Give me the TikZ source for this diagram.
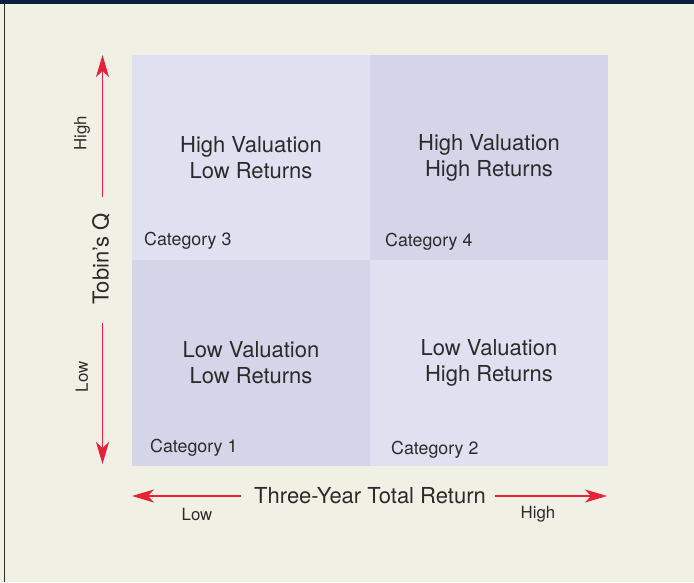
\documentclass[tikz,border=0pt]{standalone}
\usepackage{fontspec}
\setmainfont{TeX Gyre Heros}
\usetikzlibrary{arrows.meta}
\definecolor{paper}{HTML}{F1F0E5}
\definecolor{navy}{HTML}{0B1F3F}
\definecolor{lightq}{HTML}{E0E1F0}
\definecolor{darkq}{HTML}{D5D5EA}
\definecolor{axisred}{HTML}{E8213A}
\definecolor{ink}{HTML}{2B2B2B}
\begin{document}
\begin{tikzpicture}[x=1pt, y=-1pt,
    quad/.style={rectangle, minimum width=238pt, minimum height=206pt, inner sep=0pt, outer sep=0pt, anchor=north west, align=center, text=ink, font=\fontsize{22}{26}\selectfont},
    catlabel/.style={anchor=west, inner sep=0pt, text=ink, font=\fontsize{17.8}{20}\selectfont},
    ticklabel/.style={inner sep=0pt, text=ink, font=\fontsize{16.8}{20}\selectfont},
    axislabel/.style={inner sep=0pt, text=ink, font=\fontsize{22}{24}\selectfont},
    axisarrow/.style={draw=axisred, line width=1.5pt, -{Stealth[length=22pt, width=13pt, inset=6pt]}}]
    \useasboundingbox (0,0) rectangle (694,582);
    \fill[paper] (0,0) rectangle (694,582);
    \fill[navy] (0,0) rectangle (694,4);
    \draw[ink, line width=1.2pt] (4.75,4) -- (4.75,582);

    % the four categories
    \node (cat3) [quad, fill=lightq] at (132,55) {High Valuation\\Low Returns};
    \node (cat4) [quad, fill=darkq] at (370,55) {High Valuation\\High Returns};
    \node (cat1) [quad, fill=darkq] at (132,260) {Low Valuation\\Low Returns};
    \node (cat2) [quad, fill=lightq] at (370,260) {Low Valuation\\High Returns};

    \node (lab3) [catlabel] at (144,241) {Category 3};
    \node (lab4) [catlabel] at (385,242) {Category 4};
    \node (lab1) [catlabel] at (150,448) {Category 1};
    \node (lab2) [catlabel] at (391,450) {Category 2};

    % vertical axis
    \node (tobin) [axislabel, rotate=90] at (101,259) {Tobin's Q};
    \node (yhigh) [ticklabel, rotate=90] at (82,133) {High};
    \node (ylow) [ticklabel, rotate=90] at (82,377) {Low};
    \coordinate (ytop) at (102.5,55);
    \coordinate (ytopend) at (102.5,197);
    \coordinate (ybot) at (102.5,464);
    \coordinate (ybotend) at (102.5,323);
    \draw[axisarrow] (ytopend) -- (ytop);
    \draw[axisarrow] (ybotend) -- (ybot);

    % horizontal axis
    \node (total) [axislabel] at (370,496) {Three-Year Total Return};
    \node (xlow) [ticklabel] at (197,514) {Low};
    \node (xhigh) [ticklabel] at (538,514) {High};
    \coordinate (xleft) at (132,496);
    \coordinate (xleftend) at (241,496);
    \coordinate (xright) at (607,496);
    \coordinate (xrightend) at (495,496);
    \draw[axisarrow] (xleftend) -- (xleft);
    \draw[axisarrow] (xrightend) -- (xright);
\end{tikzpicture}
\end{document}
